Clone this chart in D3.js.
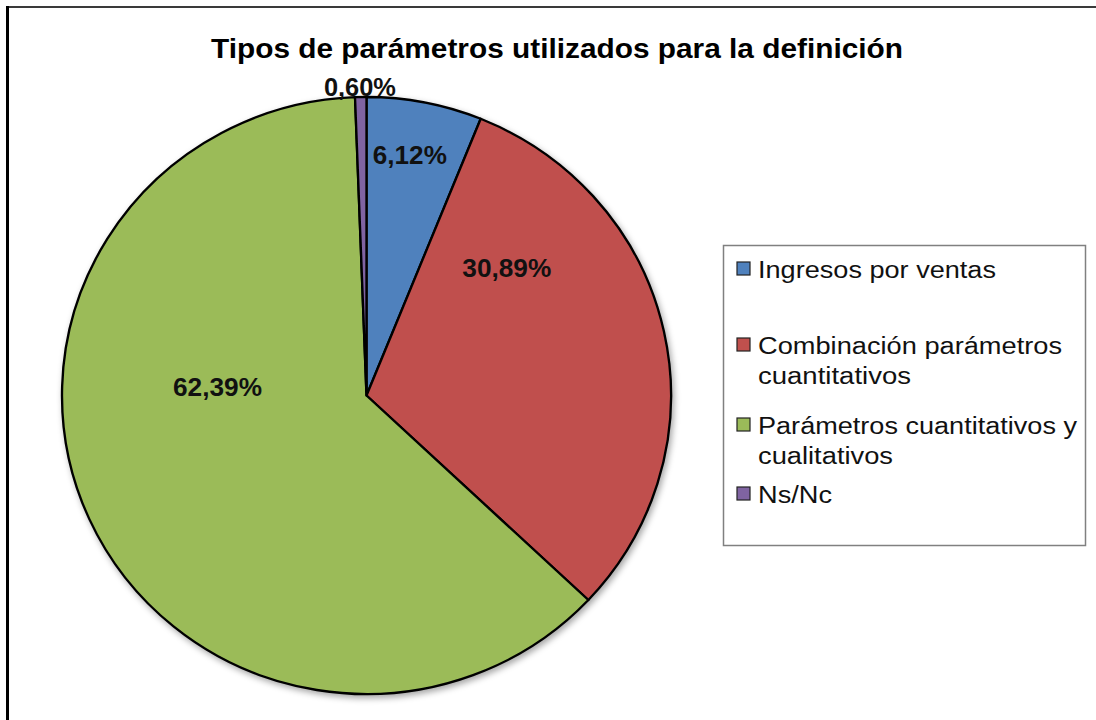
<!DOCTYPE html>
<html lang="es">
<head>
<meta charset="UTF-8"/>
<title>Tipos de parámetros utilizados para la definición</title>
<script src="https://d3js.org/d3.v7.min.js"></script>
<style>
  body { margin: 0; background: #fff; }
  svg { display: block; font-family: "Liberation Sans", Arial, sans-serif; }
</style>
</head>
<body>
<svg id="chart" width="1096" height="720"></svg>
<script>
const title = 'Tipos de parámetros utilizados para la definición';
const categories = ['Ingresos por ventas', 'Combinación parámetros cuantitativos',
  'Parámetros cuantitativos y cualitativos', 'Ns/Nc'];
const values = [6.12, 30.89, 62.39, 0.60];
const valueLabels = ['6,12%', '30,89%', '62,39%', '0,60%'];
const colors = ['#4f81bd', '#c0504d', '#9bbb59', '#8064a2'];

// legend text wrapped the way the picture shows it
const legendLines = [
  ['Ingresos por ventas'],
  ['Combinación parámetros', 'cuantitativos'],
  ['Parámetros cuantitativos y', 'cualitativos'],
  ['Ns/Nc']
];

const svg = d3.select('#chart');

// outer frame (only top and left edges are inside the picture)
svg.append('line').attr('x1', 7).attr('y1', 7).attr('x2', 1096).attr('y2', 7)
  .attr('stroke', '#3a3a3a').attr('stroke-width', 2);
svg.append('line').attr('x1', 7.5).attr('y1', 6).attr('x2', 7.5).attr('y2', 720)
  .attr('stroke', '#000').attr('stroke-width', 3);

// title
svg.append('text')
  .attr('x', 557).attr('y', 58)
  .attr('text-anchor', 'middle')
  .attr('font-size', 28).attr('font-weight', 'bold')
  .attr('textLength', 692).attr('lengthAdjust', 'spacingAndGlyphs')
  .text(title);

// pie (slightly wider than tall, as in the picture)
const cx = 366.5, cy = 395.5, rx = 304.5, ry = 298.5;

const defs = svg.append('defs');
const f = defs.append('filter').attr('id', 'shadow')
  .attr('x', '-10%').attr('y', '-10%').attr('width', '120%').attr('height', '120%');
f.append('feDropShadow').attr('dx', 2).attr('dy', 3).attr('stdDeviation', 3)
  .attr('flood-color', '#000').attr('flood-opacity', 0.35);

const pie = d3.pie().sort(null).value(d => d);
const arc = d3.arc().innerRadius(0).outerRadius(ry);

const g = svg.append('g')
  .attr('transform', `translate(${cx},${cy}) scale(${rx / ry},1)`);

g.append('g').attr('filter', 'url(#shadow)')
  .selectAll('path')
  .data(pie(values))
  .join('path')
    .attr('d', arc)
    .attr('fill', (d, i) => colors[i])
    .attr('stroke', '#000')
    .attr('stroke-width', 2.3)
    .attr('stroke-linejoin', 'round');

// data labels: angle (deg, clockwise from top) and radius as a fraction of the ellipse
const labelLayout = [
  { a: 10, r: 0.82, w: 74 },
  { a: 47, r: 0.63, w: 89 },
  { a: 273.3, r: 0.49, w: 89 },
  { a: 358.8, r: 1.035, w: 72 }
];

svg.append('g').selectAll('text')
  .data(valueLabels)
  .join('text')
    .attr('x', (d, i) => cx + labelLayout[i].r * rx * Math.sin(labelLayout[i].a * Math.PI / 180))
    .attr('y', (d, i) => cy - labelLayout[i].r * ry * Math.cos(labelLayout[i].a * Math.PI / 180))
    .attr('dy', '0.36em')
    .attr('text-anchor', 'middle')
    .attr('font-size', 26)
    .attr('font-weight', 'bold')
    .attr('fill', '#111')
    .attr('textLength', (d, i) => labelLayout[i].w)
    .attr('lengthAdjust', 'spacingAndGlyphs')
    .text(d => d);

// legend
const legend = svg.append('g');
legend.append('rect')
  .attr('x', 723.5).attr('y', 245.5).attr('width', 362).attr('height', 300)
  .attr('fill', '#fff').attr('stroke', '#808080').attr('stroke-width', 1.5);

const itemTop = [262, 338, 418, 487];
const lineWidths = [[238], [304, 153], [319, 135], [74]];

const items = legend.selectAll('g.item')
  .data(categories)
  .join('g')
    .attr('class', 'item')
    .attr('transform', (d, i) => `translate(737,${itemTop[i]})`);

items.append('rect')
  .attr('width', 13).attr('height', 13)
  .attr('fill', (d, i) => colors[i])
  .attr('stroke', '#222').attr('stroke-width', 1.2);

items.each(function (d, i) {
  const t = d3.select(this).append('text')
    .attr('font-size', 23)
    .attr('fill', '#111');
  legendLines[i].forEach((line, j) => {
    t.append('tspan')
      .attr('x', 21)
      .attr('y', 16 + j * 30)
      .attr('textLength', lineWidths[i][j])
      .attr('lengthAdjust', 'spacingAndGlyphs')
      .text(line);
  });
});
</script>
</body>
</html>
